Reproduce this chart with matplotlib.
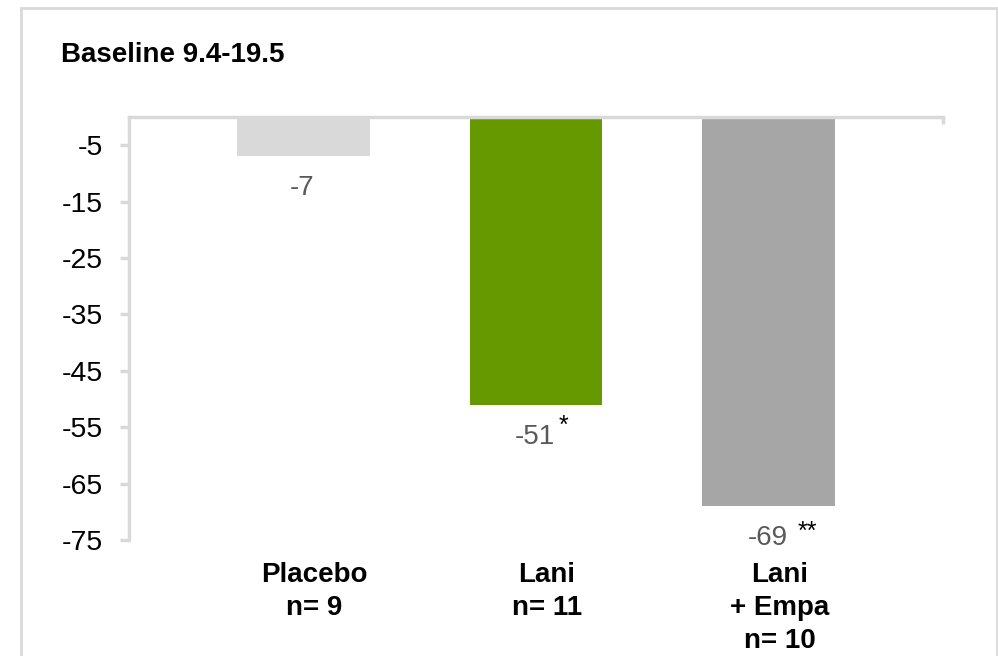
import matplotlib
matplotlib.use("Agg")
import matplotlib.pyplot as plt
from matplotlib.lines import Line2D

plt.rcParams['font.family'] = ['Liberation Sans', 'DejaVu Sans']

categories = ["Placebo\nn= 9", "Lani\nn= 11", "Lani\n+ Empa\nn= 10"]
values = [-7, -51, -69]
value_labels = ["-7", "-51", "-69"]
significance = ["", "*", "**"]
bar_colors = ["#d9d9d9", "#669900", "#a6a6a6"]
yticks = [-5, -15, -25, -35, -45, -55, -65, -75]
title = "Baseline 9.4-19.5"

W, H = 998, 656
fig = plt.figure(figsize=(W / 100, H / 100), dpi=100)
ax = fig.add_axes([129 / W, 1 - 540 / H, (943 - 129) / W, (540 - 117) / H])

x = list(range(len(categories)))
ax.bar(x, values, width=0.571, color=bar_colors, zorder=2)
ax.set_xlim(-0.75, 2.75)
ax.set_ylim(-75, 0)
ax.set_yticks(yticks)
ax.set_yticklabels([str(t) for t in yticks], fontsize=20.5, color="black")
ax.set_xticks([])

gray = "#d9d9d9"
for s in ["right", "bottom"]:
    ax.spines[s].set_visible(False)
for s in ["top", "left"]:
    ax.spines[s].set_color(gray)
    ax.spines[s].set_linewidth(2.5)
ax.tick_params(axis="y", length=6.5, width=2.5, color=gray, pad=12)
# small end tick at right of top axis
ax.plot([1, 1], [1, 1 - 7 / 423], transform=ax.transAxes, color=gray,
        lw=2.5, clip_on=False, solid_capstyle="butt")

for i, (v, lab, sig) in enumerate(zip(values, value_labels, significance)):
    ax.annotate(lab, xy=(i, v), xytext=(-1, -19), textcoords="offset pixels",
                ha="center", va="top", fontsize=20, color="#595959")
    if sig:
        dx = 23 if len(sig) == 1 else 29
        dy = -9 if len(sig) == 1 else -14
        ax.annotate(sig, xy=(i, v), xytext=(dx, dy), textcoords="offset pixels",
                    ha="left", va="top", fontsize=18, color="black")

for i, cat in enumerate(categories):
    ax.annotate(cat, xy=(i, 0), xycoords=("data", "axes fraction"),
                xytext=(11, -22), textcoords="offset pixels",
                ha="center", va="top", fontsize=20, fontweight="bold",
                color="black", linespacing=1.36, annotation_clip=False)

fig.text(61 / W, 1 - 62.3 / H, title, fontsize=20, fontweight="bold",
         ha="left", va="baseline", color="black")

# figure frame
for xs, ys in [([21, 21], [8, H + 5]), ([21, 997], [8, 8]), ([997, 997], [8, H + 5])]:
    fig.add_artist(Line2D([a / W for a in xs], [1 - b / H for b in ys],
                          color=gray, lw=2, transform=fig.transFigure))

fig.savefig("out.png", dpi=100)
